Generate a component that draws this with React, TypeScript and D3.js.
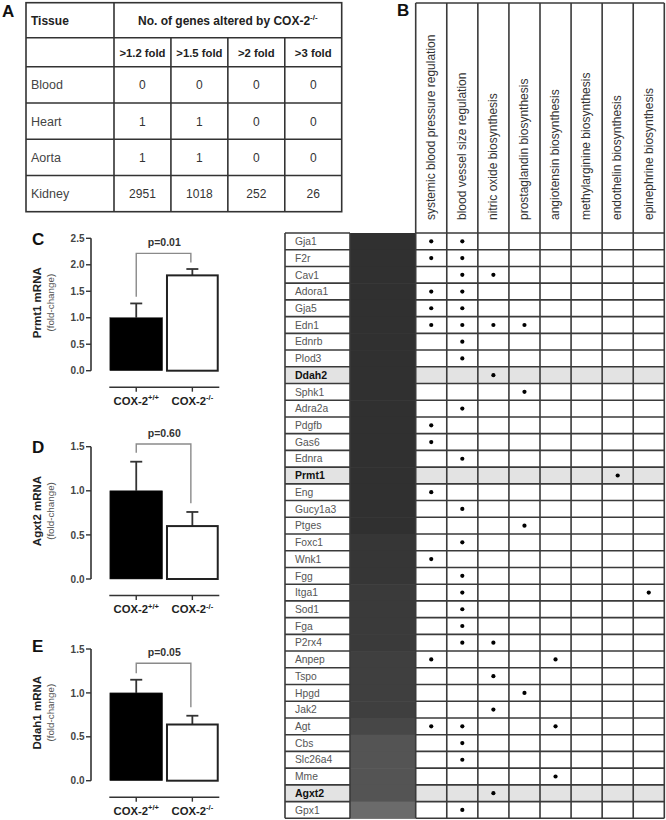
import React from 'react';
import * as d3 from 'd3';

const FONT = '"Liberation Sans", Arial, Helvetica, sans-serif';

// ---------- Panel A data ----------
const tissues = ['Blood', 'Heart', 'Aorta', 'Kidney'];
const foldLabels = ['>1.2 fold', '>1.5 fold', '>2 fold', '>3 fold'];
const geneCounts = [
  [0, 0, 0, 0],
  [1, 1, 0, 0],
  [1, 1, 0, 0],
  [2951, 1018, 252, 26],
];

// ---------- Panel B data ----------
const processes = [
  'systemic blood pressure regulation',
  'blood vessel size regulation',
  'nitric oxide biosynthesis',
  'prostaglandin biosynthesis',
  'angiotensin biosynthesis',
  'methylarginine biosynthesis',
  'endothelin biosynthesis',
  'epinephrine biosynthesis',
];
const genes = [
  'Gja1', 'F2r', 'Cav1', 'Adora1', 'Gja5', 'Edn1', 'Ednrb', 'Plod3', 'Ddah2', 'Sphk1',
  'Adra2a', 'Pdgfb', 'Gas6', 'Ednra', 'Prmt1', 'Eng', 'Gucy1a3', 'Ptges', 'Foxc1', 'Wnk1',
  'Fgg', 'Itga1', 'Sod1', 'Fga', 'P2rx4', 'Anpep', 'Tspo', 'Hpgd', 'Jak2', 'Agt',
  'Cbs', 'Slc26a4', 'Mme', 'Agxt2', 'Gpx1',
];
const heatLevels = [
  0.02, 0.02, 0.02, 0.02, 0.02, 0.02, 0.02, 0.02, 0.02, 0.02,
  0.02, 0.02, 0.02, 0.02, 0.02, 0.02, 0.02, 0.02, 0.1, 0.1,
  0.1, 0.16, 0.16, 0.16, 0.16, 0.24, 0.24, 0.24, 0.24, 0.36,
  0.55, 0.55, 0.55, 0.55, 0.9,
];
const annotations = [
  [0, 1], [0, 1], [1, 2], [0, 1], [0, 1], [0, 1, 2, 3], [1], [1], [2], [3],
  [1], [0], [0], [1], [6], [0], [1], [3], [1], [0],
  [1], [1, 7], [1], [1], [1, 2], [0, 4], [2], [3], [2], [0, 1, 4],
  [1], [1], [4], [2], [1],
];
const highlightedGenes = ['Ddah2', 'Prmt1', 'Agxt2'];

// ---------- Panels C–E data ----------
const groups = ['+/+', '-/-'];
const prmt1Means = [1.0, 1.8];
const prmt1Errors = [0.27, 0.12];
const agxt2Means = [1.0, 0.6];
const agxt2Errors = [0.33, 0.16];
const ddah1Means = [1.0, 0.64];
const ddah1Errors = [0.15, 0.1];
const pLabels = ['p=0.01', 'p=0.60', 'p=0.05'];
const bracketLevels = [
  [2.215, 1.396, 2.045],
  [1.53, 1.43, 0.86],
  [1.337, 1.223, 0.836],
];

function TableA() {
  const left = 26;
  const right = 341.7;
  const tissueRight = 114;
  const top = 2.7;
  const headBottom = 37.7;
  const subBottom = 66.7;
  const bottom = 211.7;
  const rowY = d3.scaleBand<string>().domain(tissues).range([subBottom, bottom]);
  const colX = d3.scaleBand<string>().domain(foldLabels).range([tissueRight, right]);
  const line = { stroke: '#333', strokeWidth: 1.6 };
  return (
    <g fontFamily={FONT}>
      <text x={2} y={17} fontSize={17} fontWeight="bold" fill="#111">A</text>
      <rect x={left} y={top} width={right - left} height={bottom - top} fill="#fff" {...line} />
      <line x1={left} x2={right} y1={headBottom} y2={headBottom} {...line} />
      <line x1={left} x2={right} y1={subBottom} y2={subBottom} {...line} />
      {tissues.slice(1).map((t) => (
        <line key={t} x1={left} x2={right} y1={rowY(t)!} y2={rowY(t)!} {...line} />
      ))}
      <line x1={tissueRight} x2={tissueRight} y1={top} y2={bottom} {...line} />
      {foldLabels.slice(1).map((f) => (
        <line key={f} x1={colX(f)!} x2={colX(f)!} y1={headBottom} y2={bottom} {...line} />
      ))}
      <text x={31} y={25} fontSize={12} fontWeight="bold" fill="#222">Tissue</text>
      <text x={(tissueRight + right) / 2} y={25} fontSize={12} fontWeight="bold" fill="#222" textAnchor="middle">
        No. of genes altered by COX-2
        <tspan fontSize={8} dy={-5}>-/-</tspan>
      </text>
      {foldLabels.map((f) => (
        <text key={f} x={colX(f)! + colX.bandwidth() / 2} y={56.5} fontSize={11.3} fontWeight="bold" fill="#222" textAnchor="middle">
          {f}
        </text>
      ))}
      {tissues.map((t, i) => (
        <g key={t}>
          <text x={31} y={rowY(t)! + rowY.bandwidth() / 2 + 4.5} fontSize={12.5} fill="#444">{t}</text>
          {geneCounts[i].map((v, j) => (
            <text key={j} x={colX(foldLabels[j])! + colX.bandwidth() / 2} y={rowY(t)! + rowY.bandwidth() / 2 + 4.5} fontSize={12} fill="#333" textAnchor="middle">
              {v}
            </text>
          ))}
        </g>
      ))}
    </g>
  );
}

function PanelB() {
  const gridLeft = 415.7;
  const gridRight = 664.3;
  const headerTop = 3;
  const headerBottom = 233;
  const bottom = 818.3;
  const nameLeft = 285;
  const nameRight = 350;
  const col = d3.scaleBand<string>().domain(processes).range([gridLeft, gridRight]);
  const row = d3.scaleBand<string>().domain(genes).range([headerBottom, bottom]);
  const heatColor = d3.scaleLinear<string>().domain([0, 1]).range(['#2f2f2f', '#727272']);
  const line = { stroke: '#3a3a3a', strokeWidth: 1.6 };
  const rh = row.bandwidth();
  return (
    <g fontFamily={FONT}>
      <text x={397} y={16} fontSize={17} fontWeight="bold" fill="#111">B</text>
      <rect x={nameLeft} y={headerBottom} width={nameRight - nameLeft} height={bottom - headerBottom} fill="#fff" />
      <rect x={gridLeft} y={headerTop} width={gridRight - gridLeft} height={bottom - headerTop} fill="#fff" />
      {genes.map((g) =>
        highlightedGenes.includes(g) ? (
          <g key={'hl' + g}>
            <rect x={nameLeft} y={row(g)!} width={nameRight - nameLeft} height={rh} fill="#e3e3e3" />
            <rect x={gridLeft} y={row(g)!} width={gridRight - gridLeft} height={rh} fill="#e3e3e3" />
          </g>
        ) : null
      )}
      {genes.map((g, i) => (
        <rect key={'h' + g} x={nameRight} y={row(g)!} width={gridLeft - nameRight} height={rh + 0.6} fill={heatColor(heatLevels[i])} />
      ))}
      <line x1={gridLeft} x2={gridRight} y1={headerTop} y2={headerTop} {...line} />
      {genes.map((g) => (
        <g key={'l' + g}>
          <line x1={nameLeft} x2={nameRight} y1={row(g)!} y2={row(g)!} {...line} />
          <line x1={gridLeft} x2={gridRight} y1={row(g)!} y2={row(g)!} {...line} />
        </g>
      ))}
      <line x1={nameLeft} x2={nameRight} y1={bottom} y2={bottom} {...line} />
      <line x1={gridLeft} x2={gridRight} y1={bottom} y2={bottom} {...line} />
      <line x1={nameLeft} x2={nameLeft} y1={headerBottom} y2={bottom} {...line} />
      <line x1={nameRight} x2={nameRight} y1={headerBottom} y2={bottom} {...line} />
      {processes.map((p) => (
        <line key={'v' + p} x1={col(p)!} x2={col(p)!} y1={headerTop} y2={bottom} {...line} />
      ))}
      <line x1={gridRight} x2={gridRight} y1={headerTop} y2={bottom} {...line} />
      {processes.map((p) => (
        <text
          key={'t' + p}
          transform={`translate(${col(p)! + col.bandwidth() / 2 + 3.8},220) rotate(-90)`}
          fontSize={12}
          fill="#333"
        >
          {p}
        </text>
      ))}
      {genes.map((g) => {
        const hl = highlightedGenes.includes(g);
        return (
          <text
            key={'n' + g}
            x={295}
            y={row(g)! + rh / 2 + 3.7}
            fontSize={hl ? 10.5 : 10.3}
            fontWeight={hl ? 'bold' : 'normal'}
            fill={hl ? '#111' : '#555'}
          >
            {g}
          </text>
        );
      })}
      {genes.map((g, i) =>
        annotations[i].map((c) => (
          <circle key={'d' + g + c} cx={col(processes[c])! + col.bandwidth() / 2} cy={row(g)! + rh / 2} r={2.1} fill="#000" />
        ))
      )}
    </g>
  );
}

type BarProps = {
  letter: string;
  letterY: number;
  label: string;
  means: number[];
  errors: number[];
  yMax: number;
  topPx: number;
  zeroPx: number;
  bracket: number[];
  p: string;
};

function BarPanel({ letter, letterY, label, means, errors, yMax, topPx, zeroPx, bracket, p }: BarProps) {
  const y = d3.scaleLinear().domain([0, yMax]).range([zeroPx, topPx]);
  const x = d3.scaleBand<string>().domain(groups).range([109.3, 219.3]).paddingInner(0.06).paddingOuter(0.01);
  const ticks = d3.range(0, yMax + 0.001, 0.5);
  const axisX = 91;
  const xAxisY = zeroPx + 16.5;
  const cx = (g: string) => x(g)! + x.bandwidth() / 2;
  const labelCy = zeroPx - 68;
  const [bTop, bLeft, bRight] = bracket;
  return (
    <g fontFamily={FONT}>
      <text x={32} y={letterY} fontSize={17} fontWeight="bold" fill="#111">{letter}</text>
      <line x1={axisX} x2={axisX} y1={y(yMax)} y2={y(0)} stroke="#333" strokeWidth={1.6} />
      {ticks.map((t) => (
        <g key={t}>
          <line x1={axisX - 5} x2={axisX} y1={y(t)} y2={y(t)} stroke="#333" strokeWidth={1.4} />
          <text x={axisX - 6.5} y={y(t) + 3.6} fontSize={10} fontWeight="bold" fill="#444" textAnchor="end">
            {d3.format('.1f')(t)}
          </text>
        </g>
      ))}
      <text transform={`translate(40.5,${labelCy}) rotate(-90)`} fontSize={11.5} fontWeight="bold" fill="#222" textAnchor="middle">
        {label}
      </text>
      <text transform={`translate(54,${labelCy}) rotate(-90)`} fontSize={9.8} fill="#555" textAnchor="middle">
        (fold-change)
      </text>
      {groups.map((g, i) => (
        <g key={'e' + g}>
          <line x1={cx(g)} x2={cx(g)} y1={y(means[i])} y2={y(means[i] + errors[i])} stroke="#333" strokeWidth={1.8} />
          <line x1={cx(g) - 6} x2={cx(g) + 6} y1={y(means[i] + errors[i])} y2={y(means[i] + errors[i])} stroke="#333" strokeWidth={1.8} />
        </g>
      ))}
      {groups.map((g, i) => (
        <rect
          key={'b' + g}
          x={x(g)! + (i === 1 ? 1 : 0)}
          y={y(means[i])}
          width={x.bandwidth() - (i === 1 ? 2 : 0)}
          height={y(0) - y(means[i])}
          fill={i === 0 ? '#000' : '#fff'}
          stroke="#222"
          strokeWidth={i === 0 ? 0.5 : 2}
        />
      ))}
      <path
        d={`M${cx(groups[0])},${y(bLeft)}V${y(bTop)}H${cx(groups[1]) - 1.5}V${y(bRight)}`}
        fill="none"
        stroke="#8a8a8a"
        strokeWidth={1.4}
      />
      <text x={(cx(groups[0]) + cx(groups[1])) / 2} y={y(bTop) - 7.5} fontSize={10.5} fontWeight="bold" fill="#333" textAnchor="middle">
        {p}
      </text>
      <line x1={109.3} x2={219.3} y1={xAxisY} y2={xAxisY} stroke="#333" strokeWidth={1.6} />
      {groups.map((g) => (
        <g key={'x' + g}>
          <line x1={cx(g)} x2={cx(g)} y1={xAxisY} y2={xAxisY + 4.5} stroke="#333" strokeWidth={1.4} />
          <text x={cx(g)} y={xAxisY + 17.5} fontSize={11.3} fontWeight="bold" fill="#222" textAnchor="middle">
            COX-2<tspan fontSize={7.5} dy={-4.5}>{g}</tspan>
          </text>
        </g>
      ))}
    </g>
  );
}

export default function App() {
  return (
    <svg
      width={666}
      height={820}
      viewBox="0 0 666 820"
      style={{ position: 'absolute', left: 0, top: 0, background: '#fff' }}
    >
      <rect x={0} y={0} width={666} height={820} fill="#fff" />
      <TableA />
      <PanelB />
      <BarPanel letter="C" letterY={245} label="Prmt1 mRNA" means={prmt1Means} errors={prmt1Errors}
        yMax={2.5} topPx={238.3} zeroPx={370.7} bracket={bracketLevels[0]} p={pLabels[0]} />
      <BarPanel letter="D" letterY={453} label="Agxt2 mRNA" means={agxt2Means} errors={agxt2Errors}
        yMax={1.5} topPx={446.7} zeroPx={579} bracket={bracketLevels[1]} p={pLabels[1]} />
      <BarPanel letter="E" letterY={652} label="Ddah1 mRNA" means={ddah1Means} errors={ddah1Errors}
        yMax={1.5} topPx={649} zeroPx={780.7} bracket={bracketLevels[2]} p={pLabels[2]} />
    </svg>
  );
}
